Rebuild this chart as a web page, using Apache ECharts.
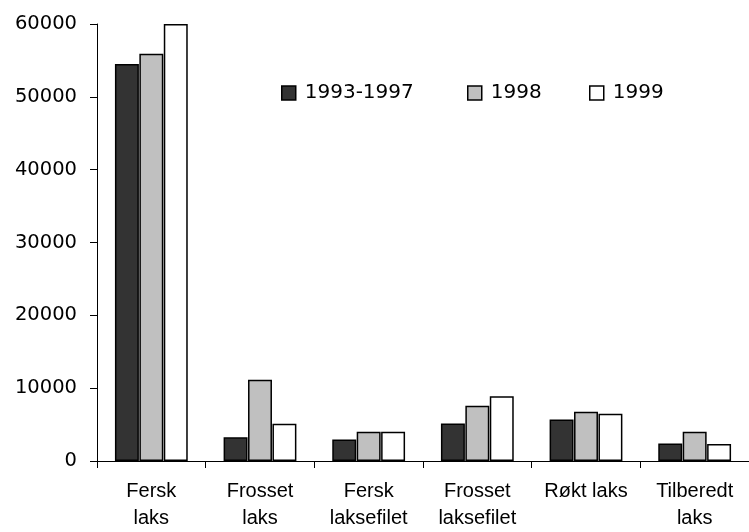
<!DOCTYPE html>
<html>
<head>
<meta charset="utf-8">
<script src="https://cdn.jsdelivr.net/npm/echarts@6/dist/echarts.min.js"></script>
<style>
  html, body { margin: 0; padding: 0; background: #fff; }
  #chart { width: 749px; height: 532px; }
</style>
</head>
<body>
<div id="chart"></div>
<script>
// kategorier og verdier (lest av figuren)
const categories = ['Fersk\nlaks', 'Frosset\nlaks', 'Fersk\nlaksefilet', 'Frosset\nlaksefilet', 'Røkt laks', 'Tilberedt\nlaks'];
const seriesNames = ['1993-1997', '1998', '1999'];
const values9397 = [54500, 3250, 2950, 5150, 5700, 2400];
const values1998 = [55900, 11150, 4000, 7600, 6750, 4000];
const values1999 = [60000, 5100, 4000, 8900, 6500, 2350];
const yTicks = { min: 0, max: 60000, interval: 10000 };

const colors = ['#333333', '#c0c0c0', '#ffffff'];
const font = 'Liberation Sans, Arial, sans-serif';
const wideFont = 'DejaVu Sans, sans-serif';   // tallene i originalen er breie

const chart = echarts.init(document.getElementById('chart'));

const mkSeries = (name, data, i) => ({
    name: name,
    type: 'bar',
    data: data,
    barGap: '2%',
    barCategoryGap: '33%',
    itemStyle: { color: colors[i], borderColor: '#000', borderWidth: 1.5 }
});

const mkLegend = (name, left) => ({
    data: [name],
    left: left,
    top: 78,
    itemWidth: 14,
    itemHeight: 14,
    itemGap: 0,
    icon: 'rect',
    textStyle: { fontFamily: wideFont, fontSize: 20, color: '#000', padding: [0, 0, 0, 4] },
    itemStyle: { borderColor: '#000', borderWidth: 1.5 }
});

chart.setOption({
    animation: false,
    backgroundColor: '#fff',
    grid: { left: 97, top: 24, width: 662, height: 440 },
    legend: [
        mkLegend(seriesNames[0], 276),
        mkLegend(seriesNames[1], 462),
        mkLegend(seriesNames[2], 584)
    ],
    xAxis: {
        type: 'category',
        data: categories,
        axisLine: { lineStyle: { color: '#000', width: 1 } },
        axisTick: { show: true, length: 7, lineStyle: { color: '#000' } },
        axisLabel: {
            color: '#000',
            fontFamily: font,
            fontSize: 20,
            lineHeight: 27,
            margin: 17,
            interval: 0
        }
    },
    yAxis: {
        type: 'value',
        min: yTicks.min,
        max: yTicks.max,
        interval: yTicks.interval,
        splitLine: { show: false },
        axisLine: { show: true, lineStyle: { color: '#000', width: 1 } },
        axisTick: { show: true, length: 7, lineStyle: { color: '#000' } },
        axisLabel: {
            color: '#000',
            fontFamily: wideFont,
            fontSize: 19.5,
            margin: 20,
            formatter: (v) => String(v)
        }
    },
    series: [
        mkSeries(seriesNames[0], values9397, 0),
        mkSeries(seriesNames[1], values1998, 1),
        mkSeries(seriesNames[2], values1999, 2)
    ]
});
</script>
</body>
</html>
